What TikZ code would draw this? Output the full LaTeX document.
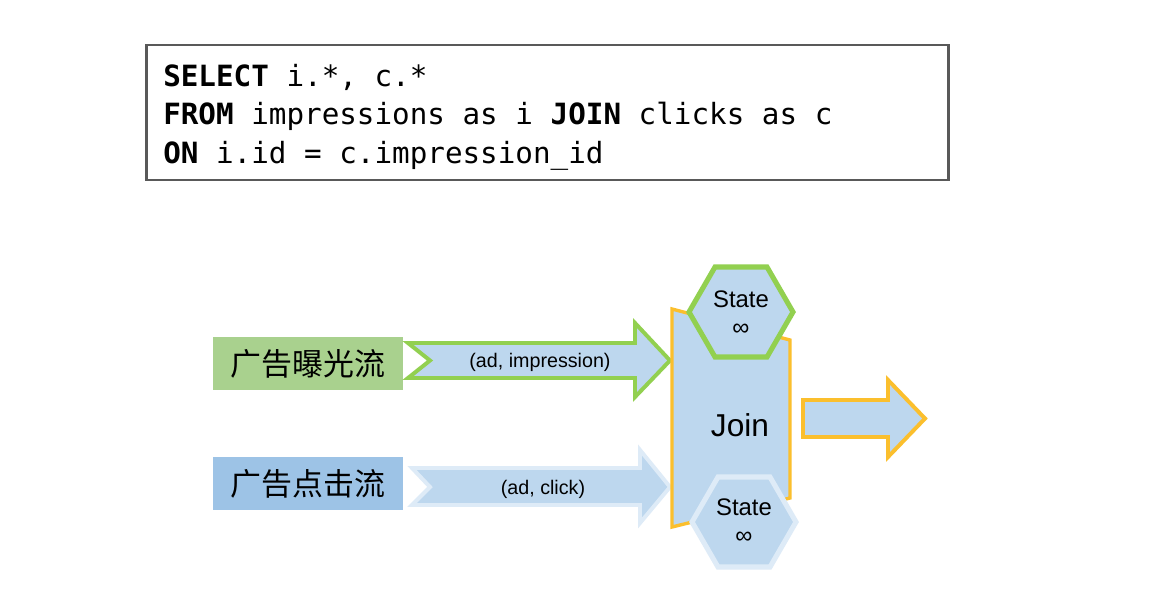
\documentclass[tikz,border=0pt]{standalone}
\usepackage{fontspec}
\setmainfont{Liberation Sans}
\setmonofont{DejaVu Sans Mono}
\newfontfamily\cjk{Noto Sans CJK SC}
\usepackage{xcolor}
\usetikzlibrary{positioning}

\definecolor{leafgreen}{HTML}{92D050}
\definecolor{boxgreen}{HTML}{A9D18E}
\definecolor{boxblue}{HTML}{9DC3E6}
\definecolor{paleblue}{HTML}{BDD7EE}
\definecolor{rimblue}{HTML}{DEEBF7}
\definecolor{joinorange}{HTML}{FBBF2D}
\definecolor{sqlgray}{HTML}{595959}

\newcommand\sqlfont{\ttfamily\fontsize{20.8pt}{27.4pt}\selectfont
  \spaceskip 0.602em\relax}

\begin{document}
\begin{tikzpicture}[
  x=0.025cm, y=-0.025cm,
  sqlbox/.style={
    draw=sqlgray, line width=2.1pt, fill=white,
    minimum width=20.025cm, minimum height=3.375cm
  },
  sqltext/.style={align=left, inner sep=0pt, font=\sqlfont},
  streambox/.style={
    minimum width=4.75cm, minimum height=1.325cm, inner sep=0pt,
    font=\cjk\fontsize{22pt}{26pt}\selectfont
  },
  flow/.style={fill=paleblue, line width=2.8pt, line join=miter},
  hexline/.style={fill=paleblue, line width=3.6pt},
  tag/.style={font=\fontsize{14pt}{16pt}\selectfont, inner sep=0pt},
  statetext/.style={align=center, inner sep=0pt,
    font=\fontsize{17pt}{19.5pt}\selectfont}
]

\useasboundingbox[fill=white] (0,0) rectangle (1166,600);

% query
\node[sqlbox] (sql) at (547.5,112.5) {};
\node[sqltext, anchor=west] (query) at (163,117)
  {\textbf{SELECT} i.*, c.*\\
   \textbf{FROM} impressions as i \textbf{JOIN} clicks as c\\
   \textbf{ON} i.id = c.impression\_id};

% sources
\node[streambox, fill=boxgreen] (imp) at (308,363.5) {广告曝光流};
\node[streambox, fill=boxblue] (clk) at (308,483.5) {广告点击流};

% input streams
\draw[flow, draw=leafgreen]
  (408,343) -- (635,343) -- (635,323) -- (670,360.5) -- (635,397)
  -- (635,378) -- (408,378) -- (430,360.5) -- cycle;
\draw[flow, draw=rimblue]
  (412,468) -- (640,468) -- (640,450) -- (670,487) -- (640,523)
  -- (640,505) -- (412,505) -- (430,487) -- cycle;
\node[tag] (impflow) at (540,362) {(ad, impression)};
\node[tag] (clkflow) at (543,489) {(ad, click)};

% join operator
\draw[fill=paleblue, draw=joinorange, line width=2.4pt]
  (672,309) -- (790,340) -- (790,498) -- (672,527) -- cycle;
\node[font=\fontsize{22.5pt}{26pt}\selectfont, inner sep=0pt] (join) at (740,425) {Join};

% states
\draw[hexline, draw=leafgreen]
  (689,312) -- (715,267) -- (767,267) -- (793,312) -- (767,357) -- (715,357) -- cycle;
\node[statetext] (imstate) at (741,313) {State\\∞};
\draw[hexline, draw=rimblue]
  (692,522) -- (718,477) -- (770,477) -- (796,522) -- (770,567) -- (718,567) -- cycle;
\node[statetext] (clstate) at (744,521) {State\\∞};

% output
\draw[flow, draw=joinorange]
  (803,400) -- (888,400) -- (888,380) -- (925,418.5) -- (888,457)
  -- (888,437) -- (803,437) -- cycle;

\end{tikzpicture}
\end{document}
